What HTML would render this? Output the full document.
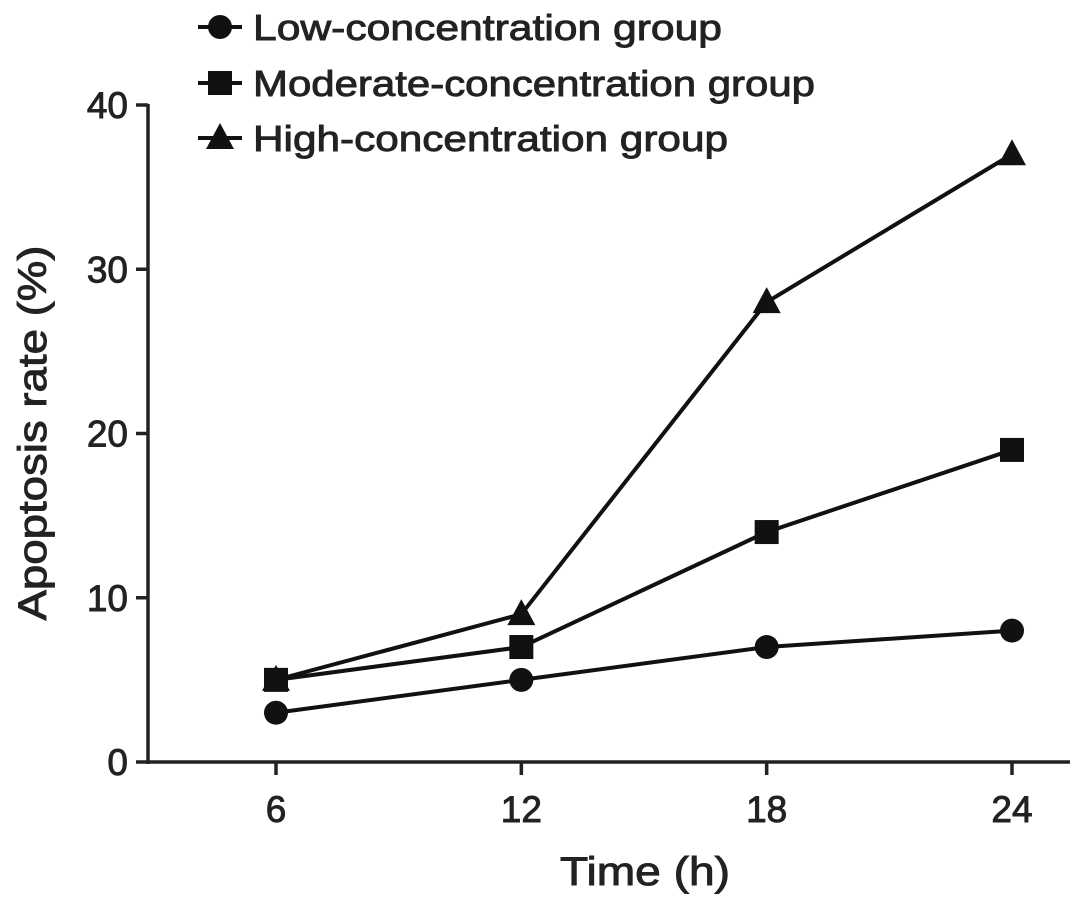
<!DOCTYPE html>
<html><head><meta charset="utf-8"><style>
body{margin:0;background:#fff;}
svg text{font-family:"Liberation Sans",Arial,sans-serif;fill:#222;stroke:#222;stroke-width:0.9;}
</style></head><body>
<svg width="1087" height="907" viewBox="0 0 1087 907">
<g id="axes"></g>
<g id="series"></g>
<g id="legend"></g>
<text x="645" y="885" font-size="40" text-anchor="middle" textLength="170" lengthAdjust="spacingAndGlyphs">Time (h)</text>
<text transform="translate(46,433) rotate(-90)" font-size="40" text-anchor="middle" textLength="375" lengthAdjust="spacingAndGlyphs">Apoptosis rate (%)</text>
</svg>
<script>
const categories=[6,12,18,24];
const lowValues=[3,5,7,8];
const moderateValues=[5,7,14,19];
const highValues=[5,9,28,37];
const yTicks=[0,10,20,30,40];
const seriesNames=["Low-concentration group","Moderate-concentration group","High-concentration group"];
const legendLens=[469,562,475];
const NS="http://www.w3.org/2000/svg";
function xS(v){return 276+(v-6)*(1012-276)/18;}
function yS(v){return 762-v*(762-105)/40;}
function mk(tag,attrs,parent){const e=document.createElementNS(NS,tag);for(const k in attrs)e.setAttribute(k,attrs[k]);parent.appendChild(e);return e;}
const axes=document.getElementById('axes');
let l=mk('line',{x1:148,y1:104,x2:148,y2:764,stroke:'#222','stroke-width':3.5},axes);


l=mk('line',{x1:147,y1:762,x2:1070,y2:762,stroke:'#222','stroke-width':3.5},axes);


yTicks.forEach(t=>{const y=yS(t);
 let tk=mk('line',{x1:136,y1:y,x2:148,y2:y,stroke:'#222','stroke-width':3.5},axes);
 
 
 let tx=mk('text',{x:128,y:y+13,'font-size':37,'text-anchor':'end'},axes);tx.textContent=t;
 
 
});
categories.forEach(c=>{const x=xS(c);
 let tk=mk('line',{x1:x,y1:762,x2:x,y2:775,stroke:'#222','stroke-width':3.5},axes);
 
 
 let tx=mk('text',{x:x,y:822,'font-size':37,'text-anchor':'middle'},axes);tx.textContent=c;
 
 
});
function marker(type,x,y,parent){
 if(type==='circle')return mk('circle',{cx:x,cy:y,r:12,fill:'#111'},parent);
 if(type==='square')return mk('rect',{x:x-12,y:y-12,width:24,height:24,fill:'#111'},parent);
 return mk('polygon',{points:`${x},${y-15} ${x+14},${y+11} ${x-14},${y+11}`,fill:'#111'},parent);
}
const S=document.getElementById('series');
const all=[[lowValues,'circle','low'],[moderateValues,'square','moderate'],[highValues,'triangle','high']];
all.forEach(([vals,type,nm])=>{
 const pts=vals.map((v,i)=>xS(categories[i])+','+yS(v)).join(' ');
 let pl=mk('polyline',{points:pts,fill:'none',stroke:'#111','stroke-width':4},S);
 
 
 vals.forEach((v,i)=>{let m=marker(type,xS(categories[i]),yS(v),S);
  
  });
});
const L=document.getElementById('legend');
const ly=[27,83,138];
all.forEach(([v,type,nm],i)=>{
 let ln=mk('line',{x1:198,y1:ly[i],x2:242,y2:ly[i],stroke:'#111','stroke-width':4},L);
 
 
 let m=marker(type,220,ly[i],L);
 
 
 let t=mk('text',{x:253,y:ly[i]+13,'font-size':36,textLength:legendLens[i],lengthAdjust:'spacingAndGlyphs'},L);t.textContent=seriesNames[i];
 
 
});
</script>
</body></html>
